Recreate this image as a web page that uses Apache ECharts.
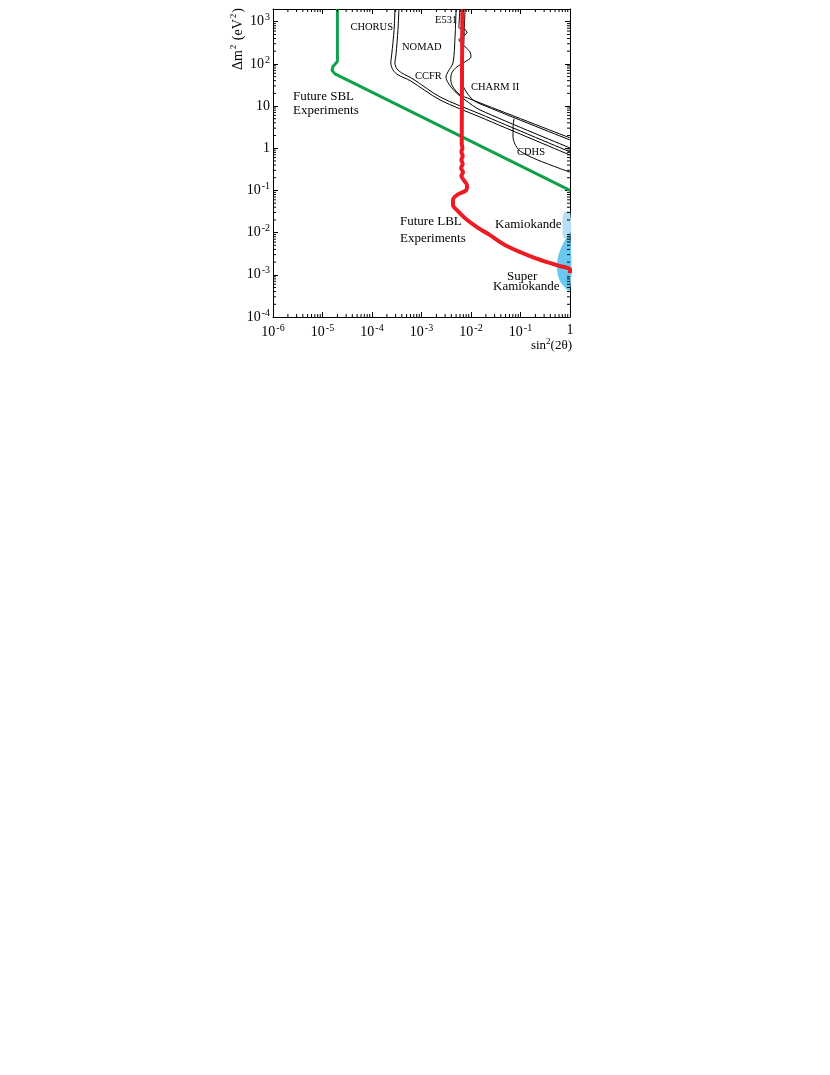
<!DOCTYPE html>
<html>
<head>
<meta charset="utf-8">
<script src="https://cdn.jsdelivr.net/npm/echarts@6/dist/echarts.min.js"></script>
<style>
  html, body { margin: 0; padding: 0; background: #fff; }
  #chart { width: 830px; height: 1075px; }
</style>
</head>
<body>
<div id="chart"></div>
<script>
// exclusion curves, points are [sin^2(2theta), dm^2 in eV^2]
var sblFuture = [[2e-5, 2000], [2e-5, 114], [1.63e-5, 87], [1.56e-5, 70], [1.79e-5, 58], [1, 0.1]]
var lblFuture = [[6.7e-3, 2000], [6.5e-3, 1.3], [6.7e-3, 1.02], [6.4e-3, 0.82], [6.8e-3, 0.656],
  [6.4e-3, 0.53], [6.8e-3, 0.424], [6.3e-3, 0.34], [6.9e-3, 0.27], [6.4e-3, 0.22], [7.1e-3, 0.177],
  [8.3e-3, 0.134], [8.3e-3, 0.114], [7.6e-3, 0.097], [5.2e-3, 0.078], [4.33e-3, 0.059], [4.33e-3, 0.045],
  [5.2e-3, 0.034], [7.6e-3, 0.022], [0.0132, 0.0135], [0.0242, 8.7e-3], [0.053, 4.8e-3], [0.18, 2.6e-3],
  [0.63, 1.6e-3], [1, 1.36e-3], [1, 1.09e-3]]
var chorus = [[2.9e-4, 2000], [2.8e-4, 650], [2.5e-4, 165], [2.4e-4, 106], [2.65e-4, 72], [3.35e-4, 55],
  [5.9e-4, 40], [2.36e-3, 14], [0.0152, 5.5], [1, 0.69]]
var nomad = [[3.5e-4, 2000], [3.35e-4, 650], [3.05e-4, 165], [2.9e-4, 106], [3.2e-4, 76], [4.0e-4, 61],
  [6.7e-4, 44], [2.36e-3, 16.5], [0.0152, 6.5], [1, 0.82]]
var ccfr = [[5.0e-3, 2000], [4.75e-3, 417], [4.33e-3, 106], [3.43e-3, 65], [3.13e-3, 49], [3.43e-3, 36],
  [4.75e-3, 22], [7.6e-3, 14], [0.0152, 8.1], [1, 1.02]]
var e531 = [[6.0e-3, 2000], [5.7e-3, 720], [7.6e-3, 646], [8.3e-3, 548], [6.6e-3, 440], [5.7e-3, 374],
  [6.9e-3, 284], [9.5e-3, 194], [0.01, 147], [7.6e-3, 112], [5.2e-3, 85], [4.1e-3, 61.5], [3.9e-3, 42],
  [4.3e-3, 28.6], [6.0e-3, 18.5], [9.5e-3, 14.8], [0.0152, 11.9], [1, 1.76]]
var charm2 = [[7.6e-3, 2000], [7.2e-3, 417], [6.9e-3, 65], [6.9e-3, 32], [8.3e-3, 20.6], [0.011, 14],
  [0.0152, 11.3], [1, 1.57]]
var cdhs = [[0.074, 5.0], [0.0706, 3.0], [0.0706, 1.85], [0.0774, 1.26], [0.093, 0.91], [0.135, 0.69],
  [0.248, 0.5], [1, 0.27]]

// allowed regions (outlines)
var kamiokande = [[0.8, 0.031], [0.72, 0.026], [0.71, 0.012], [0.74, 0.0078], [1, 0.0075], [1, 0.031]]
var superKamiokande = [[1, 0.0097], [0.79, 0.0066], [0.63, 0.0038], [0.55, 0.002], [0.57, 0.00098],
  [0.69, 0.0006], [1, 0.00043]]

// axes
var xRange = [1e-6, 1]
var yRange = [1e-4, 2000]
var xDecades = [1e-6, 1e-5, 1e-4, 1e-3, 1e-2, 1e-1]
var yDecades = [1e-4, 1e-3, 1e-2, 1e-1, 1, 10, 100, 1000]
var minorSteps = [2, 3, 4, 5, 6, 7, 8, 9]

var font = '"Liberation Serif", "Times New Roman", serif'

function minorValues(decades, max) {
  var out = []
  decades.forEach(function(d) {
    minorSteps.forEach(function(m) {
      if (d * m < max) out.push(d * m)
    })
  })
  return out
}

function powLabel(v) {
  var l = Math.log10(v)
  var e = Math.round(l)
  if (Math.abs(l - e) > 1e-6) return ''
  if (e === 0) return '{b|1}'
  if (e === 1) return '{b|10}'
  return '{b|10}{s|' + e + '}'
}

var labelRich = {
  b: { fontSize: 14, fontFamily: font, color: '#000' },
  s: { fontSize: 10, fontFamily: font, color: '#000', verticalAlign: 'bottom', padding: [0, 0, 8, 1] }
}

function axisBase(extra) {
  var a = {
    type: 'log',
    logBase: 10,
    axisLine: { show: true, onZero: false, lineStyle: { color: '#000', width: 1 } },
    axisTick: { show: true, inside: true, length: 5, lineStyle: { color: '#000' } },
    splitLine: { show: false },
    axisLabel: { show: false }
  }
  return Object.assign(a, extra)
}

function lineSeries(name, data, color, width, smooth) {
  return {
    name: name,
    type: 'line',
    data: data,
    symbol: 'none',
    smooth: smooth,
    silent: true,
    z: 3,
    lineStyle: { color: color, width: width }
  }
}

function regionSeries(data, color) {
  return {
    type: 'custom',
    silent: true,
    z: 1,
    data: data,
    renderItem: function(params, api) {
      if (params.dataIndex !== 0) return
      var pts = data.map(function(d) { return api.coord(d) })
      return { type: 'polygon', shape: { points: pts, smooth: 0.35 }, style: { fill: color } }
    }
  }
}

function minorTickSeries(values, isX) {
  return {
    type: 'custom',
    silent: true,
    z: 5,
    data: values.map(function(v) { return isX ? [v, yRange[0]] : [xRange[0], v] }),
    renderItem: function(params, api) {
      var v = api.value(isX ? 0 : 1)
      var a, b
      if (isX) {
        a = api.coord([v, yRange[0]]); b = api.coord([v, yRange[1]])
        return { type: 'group', children: [
          { type: 'line', shape: { x1: a[0], y1: a[1], x2: a[0], y2: a[1] - 3 }, style: { stroke: '#000', lineWidth: 1 } },
          { type: 'line', shape: { x1: b[0], y1: b[1], x2: b[0], y2: b[1] + 3 }, style: { stroke: '#000', lineWidth: 1 } }
        ] }
      }
      a = api.coord([xRange[0], v]); b = api.coord([xRange[1], v])
      return { type: 'group', children: [
        { type: 'line', shape: { x1: a[0], y1: a[1], x2: a[0] + 3, y2: a[1] }, style: { stroke: '#000', lineWidth: 1 } },
        { type: 'line', shape: { x1: b[0], y1: b[1], x2: b[0] - 3, y2: b[1] }, style: { stroke: '#000', lineWidth: 1 } }
      ] }
    }
  }
}

function txt(x, y, text, size, align) {
  return {
    type: 'text', x: x, y: y, z: 10, silent: true,
    style: { text: text, font: size + 'px ' + font, fill: '#000', align: align || 'left', verticalAlign: 'middle' }
  }
}

var chart = echarts.init(document.getElementById('chart'))
chart.setOption({
  animation: false,
  backgroundColor: '#fff',
  grid: { left: 273, top: 9, width: 297, height: 308, containLabel: false },
  xAxis: [
    axisBase({
      position: 'bottom', min: xRange[0], max: xRange[1],
      axisLabel: { show: true, margin: 6, formatter: powLabel, rich: labelRich }
    }),
    axisBase({ position: 'top', min: xRange[0], max: xRange[1] })
  ],
  yAxis: [
    axisBase({
      position: 'left', min: yRange[0], max: yRange[1],
      axisLabel: { show: true, margin: 3, formatter: powLabel, rich: labelRich }
    }),
    axisBase({ position: 'right', min: yRange[0], max: yRange[1] })
  ],
  graphic: [
    {
      type: 'text', x: 238, y: 39, rotation: Math.PI / 2, silent: true,
      style: {
        text: '{n|Δm}{s|2}{n| (eV}{s|2}{n|)}', align: 'center', verticalAlign: 'middle',
        rich: {
          n: { fontSize: 14, fontFamily: font, fill: '#000' },
          s: { fontSize: 9, fontFamily: font, fill: '#000', verticalAlign: 'bottom', padding: [0, 1, 8, 1] }
        }
      }
    },
    {
      type: 'text', x: 572, y: 346, silent: true,
      style: {
        text: '{n|sin}{s|2}{n|(2θ)}', align: 'right', verticalAlign: 'middle',
        rich: {
          n: { fontSize: 13, fontFamily: font, fill: '#000' },
          s: { fontSize: 9, fontFamily: font, fill: '#000', verticalAlign: 'bottom', padding: [0, 0, 8, 0] }
        }
      }
    },
    txt(393, 27, 'CHORUS', 10.5, 'right'),
    txt(402, 47, 'NOMAD', 10.5),
    txt(435, 20, 'E531', 10.5),
    txt(415, 76, 'CCFR', 10.5),
    txt(471, 87, 'CHARM II', 10.5),
    txt(517, 152, 'CDHS', 10.5),
    txt(293, 97, 'Future SBL', 13),
    txt(293, 111, 'Experiments', 13),
    txt(400, 222, 'Future LBL', 13),
    txt(400, 239, 'Experiments', 13),
    txt(495, 225, 'Kamiokande', 13),
    txt(507, 277, 'Super', 13),
    txt(493, 287, 'Kamiokande', 13)
  ],
  series: [
    regionSeries(kamiokande, '#b6dff5'),
    regionSeries(superKamiokande, '#6ac8f0'),
    minorTickSeries(minorValues(xDecades, xRange[1]), true),
    minorTickSeries(minorValues(yDecades, yRange[1]), false),
    lineSeries('CHORUS', chorus, '#000', 1, 0.3),
    lineSeries('NOMAD', nomad, '#000', 1, 0.3),
    lineSeries('CCFR', ccfr, '#000', 1, 0.3),
    lineSeries('E531', e531, '#000', 1, 0.3),
    lineSeries('CHARM II', charm2, '#000', 1, 0.3),
    lineSeries('CDHS', cdhs, '#000', 1, 0.3),
    lineSeries('Future SBL', sblFuture, '#13a04c', 3, false),
    lineSeries('Future LBL', lblFuture, '#ec1c24', 4, 0.3)
  ]
})
</script>
</body>
</html>
